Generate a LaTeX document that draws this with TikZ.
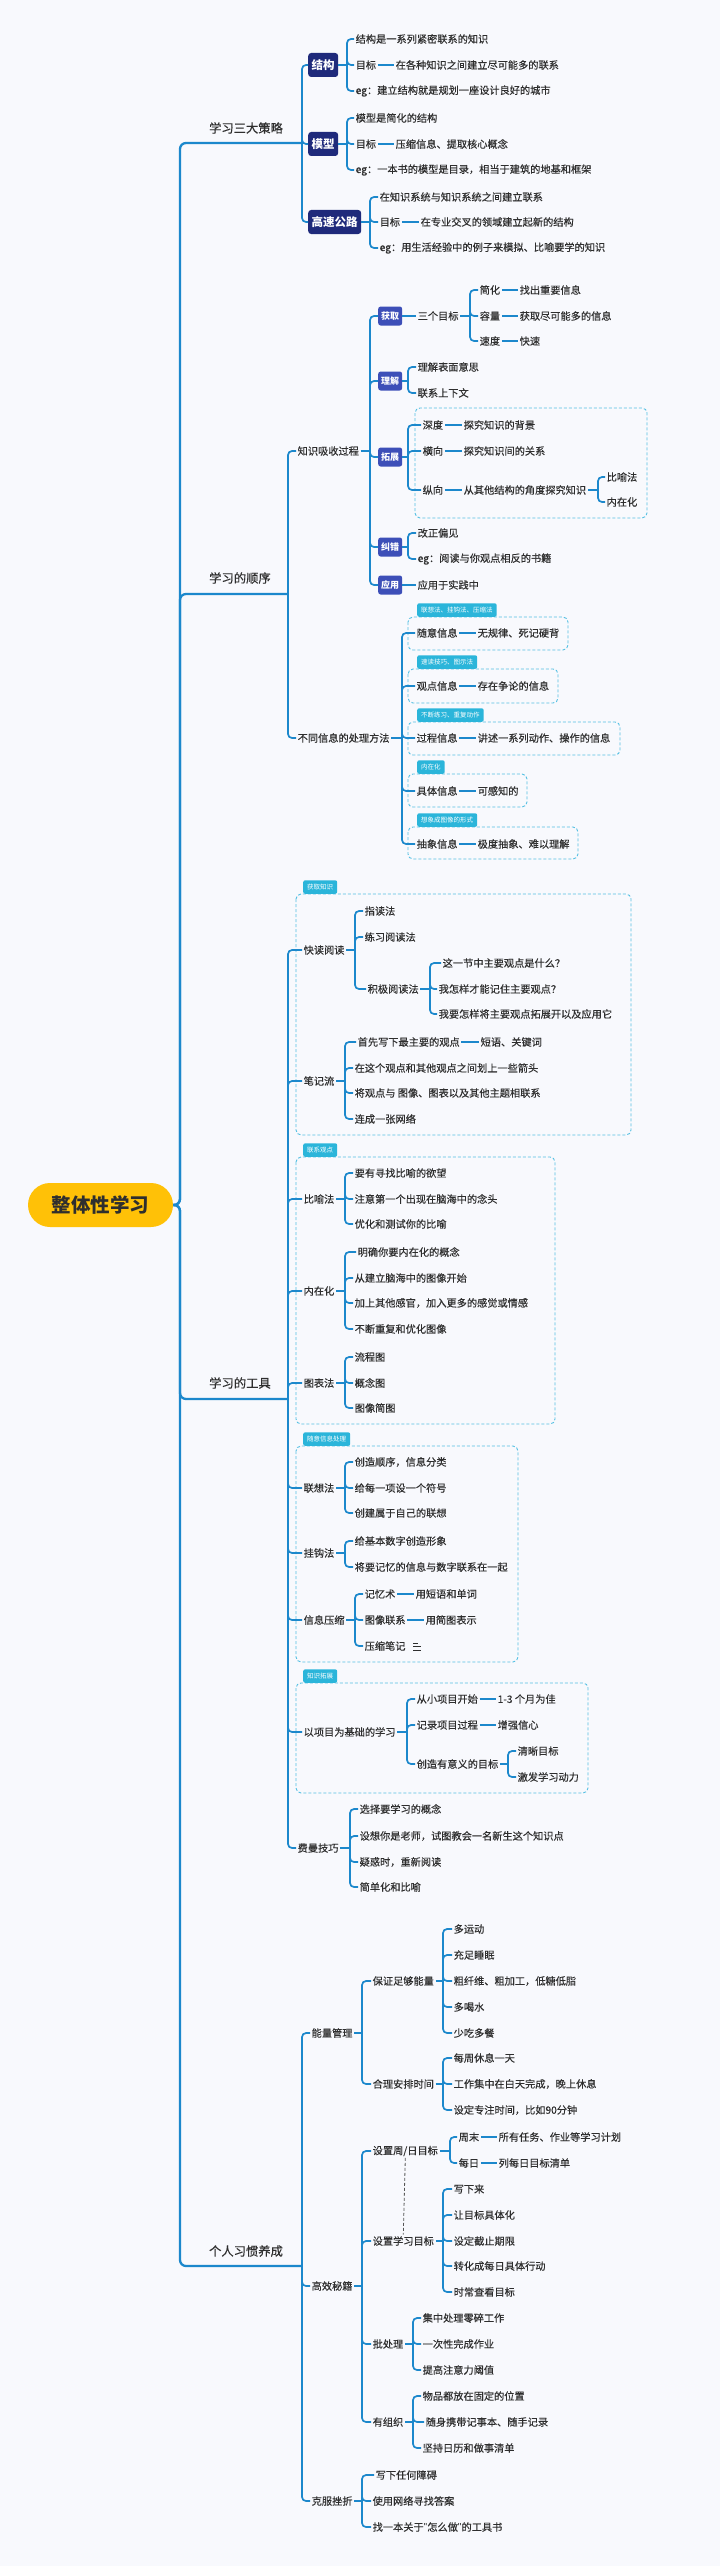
\documentclass[tikz,border=0pt]{standalone}
\usepackage{fontspec}
\setmainfont{Noto Sans CJK SC}
\newfontfamily\txtfont{Noto Sans CJK SC}[FakeBold=0.35]
\newfontfamily\qfont{Liberation Sans}
\usetikzlibrary{calc}
\definecolor{bg}{HTML}{F8F9FD}
\definecolor{ln}{HTML}{1C88CC}
\definecolor{navy}{HTML}{1F2A7B}
\definecolor{mblue}{HTML}{3D4FB8}
\definecolor{tagc}{HTML}{2BB5DA}
\definecolor{dashc}{HTML}{55C0E3}
\definecolor{tx}{HTML}{2E2E2E}
\definecolor{rootc}{HTML}{FFC107}
\definecolor{relc}{HTML}{555555}
\newcommand\fan[3]{\coordinate (sp) at (#2,0);
  \draw[link] (#1.east) -- (#1.east -| sp);
  \foreach \c in {#3}{\draw[link,rounded corners=4pt] (#1.east -| sp) |- (\c.west);}}
\newcommand\pair[2]{\draw[link] (#1.east) -- (#2.west);}
\newcommand\tagbox[3]{\node[tagstyle] (#1) at (#2) {#3};}
\tikzset{
  txt/.style={anchor=west, inner sep=1.5pt, font=\txtfont\fontsize{10.2}{12}\selectfont, text=tx},
  lone/.style={inner sep=1pt, font=\txtfont\fontsize{12.3}{14}\selectfont, text=tx},
  navybox/.style={anchor=west, fill=navy, text=white, font=\bfseries\fontsize{11.5}{13}\selectfont, rounded corners=3pt, inner xsep=3.5pt, inner ysep=0pt, minimum height=24pt},
  bluebox/.style={anchor=west, fill=mblue, text=white, font=\bfseries\fontsize{9}{11}\selectfont, rounded corners=2.5pt, inner xsep=3pt, inner ysep=0pt, minimum height=19pt},
  tagstyle/.style={anchor=south west, fill=tagc, text=white, font=\fontsize{6.5}{8}\selectfont, rounded corners=2pt, inner xsep=4pt, inner ysep=0pt, minimum height=13.5pt},
  dbox/.style={draw=dashc, dash pattern=on 3pt off 2pt, line width=0.9pt, rounded corners=5pt},
  link/.style={draw=ln, line width=1.7pt},
  trunkline/.style={draw=ln, line width=2.3pt},
  rootbox/.style={fill=rootc, text=tx, font=\bfseries\fontsize{19.5}{22}\selectfont, rounded corners=22pt, minimum width=145pt, minimum height=44pt, inner sep=0pt},
  relline/.style={draw=relc, dash pattern=on 3pt off 2pt, line width=0.8pt}
}
\begin{document}
\begin{tikzpicture}[x=1pt,y=-1pt]
\fill[bg] (0,0) rectangle (720,2566);
\useasboundingbox (0,0) rectangle (720,2566);

% dashed group boxes
\draw[dbox] (415,408) rectangle (647,518);
\draw[dbox] (408,617) rectangle (568,650);
\draw[dbox] (408,669) rectangle (558,703);
\draw[dbox] (408,722) rectangle (620,755);
\draw[dbox] (408,774) rectangle (527,807);
\draw[dbox] (408,827) rectangle (578,859);
\draw[dbox] (296,894) rectangle (631,1135);
\draw[dbox] (296,1157) rectangle (555,1424);
\draw[dbox] (296,1446) rectangle (518,1662);
\draw[dbox] (296,1683) rectangle (588,1793);
\tagbox{ta}{417,617}{联想法、挂钩法、压缩法}
\tagbox{tb}{417,669}{速读技巧、图示法}
\tagbox{tc}{417,722}{不断练习、重复动作}
\tagbox{td}{417,774}{内在化}
\tagbox{te}{417,827}{想象成图像的形式}
\tagbox{tf}{303,894}{获取知识}
\tagbox{tg}{303,1157}{联系观点}
\tagbox{th}{303,1446}{随意信息处理}
\tagbox{ti}{303,1683}{知识拓展}

% root and trunk
\node[rootbox] (root) at (100.5,1205) {整体性学习};
\coordinate (tk) at (180,0);
\coordinate (b1) at (302,143);
\coordinate (b2) at (288,594);
\coordinate (b3) at (288,1399);
\coordinate (b4) at (302,2266);
\foreach \b in {b1,b2,b3,b4}{\draw[trunkline,rounded corners=6pt] (root.east) -- (root.east -| tk) |- (\b);}
\node[lone] (L1) at (246,128) {学习三大策略};
\node[lone] (L2) at (240,578) {学习的顺序};
\node[lone] (L3) at (240,1383) {学习的工具};
\node[lone] (L4) at (246,2251) {个人习惯养成};

% ===== 学习三大策略
\node[navybox] (jg) at (308,65) {结构};
\node[navybox] (mx) at (308,144) {模型};
\node[navybox] (gs) at (308,222) {高速公路};
\foreach \c in {jg,mx,gs}{\draw[link,rounded corners=4pt] (b1) |- (\c.west);}
\node[txt] (jg1) at (354,39) {结构是一系列紧密联系的知识};
\node[txt] (jg2) at (354,65) {目标};
\node[txt] (jg2b) at (394,65) {在各种知识之间建立尽可能多的联系};
\node[txt] (jg3) at (354,91) {eg：建立结构就是规划一座设计良好的城市};
\fan{jg}{347}{jg1,jg2,jg3}
\pair{jg2}{jg2b}
\node[txt] (mx1) at (354,118) {模型是简化的结构};
\node[txt] (mx2) at (354,144) {目标};
\node[txt] (mx2b) at (394,144) {压缩信息、提取核心概念};
\node[txt] (mx3) at (354,170) {eg：一本书的模型是目录，相当于建筑的地基和框架};
\fan{mx}{347}{mx1,mx2,mx3}
\pair{mx2}{mx2b}
\node[txt] (gs1) at (378,197) {在知识系统与知识系统之间建立联系};
\node[txt] (gs2) at (378,222) {目标};
\node[txt] (gs2b) at (419,222) {在专业交叉的领域建立起新的结构};
\node[txt] (gs3) at (378,248) {eg：用生活经验中的例子来模拟、比喻要学的知识};
\fan{gs}{370}{gs1,gs2,gs3}
\pair{gs2}{gs2b}

% ===== 学习的顺序
\node[txt] (zs) at (296,451) {知识吸收过程};
\node[txt] (bt) at (296,738) {不同信息的处理方法};
\foreach \c in {zs,bt}{\draw[link,rounded corners=4pt] (b2) |- (\c.west);}
\node[bluebox] (hq) at (378,316) {获取};
\node[bluebox] (lj) at (378,381) {理解};
\node[bluebox] (tz) at (378,457) {拓展};
\node[bluebox] (jc) at (378,547) {纠错};
\node[bluebox] (yy) at (378,585) {应用};
\fan{zs}{370}{hq,lj,tz,jc,yy}
\node[txt] (hq1) at (416,316) {三个目标};
\pair{hq}{hq1}
\node[txt] (hq1a) at (478,290) {简化};
\node[txt] (hq1b) at (478,316) {容量};
\node[txt] (hq1c) at (478,341) {速度};
\fan{hq1}{470}{hq1a,hq1b,hq1c}
\node[txt] (hq1ax) at (518,290) {找出重要信息};
\node[txt] (hq1bx) at (518,316) {获取尽可能多的信息};
\node[txt] (hq1cx) at (518,341) {快速};
\pair{hq1a}{hq1ax}\pair{hq1b}{hq1bx}\pair{hq1c}{hq1cx}
\node[txt] (lj1) at (416,367) {理解表面意思};
\node[txt] (lj2) at (416,393) {联系上下文};
\fan{lj}{408}{lj1,lj2}
\node[txt] (tz1) at (421,425) {深度};
\node[txt] (tz2) at (421,451) {横向};
\node[txt] (tz3) at (421,490) {纵向};
\fan{tz}{408}{tz1,tz2,tz3}
\node[txt] (tz1x) at (462,425) {探究知识的背景};
\node[txt] (tz2x) at (462,451) {探究知识间的关系};
\node[txt] (tz3x) at (462,490) {从其他结构的角度探究知识};
\pair{tz1}{tz1x}\pair{tz2}{tz2x}\pair{tz3}{tz3x}
\node[txt] (tz3a) at (605,477) {比喻法};
\node[txt] (tz3b) at (605,502) {内在化};
\fan{tz3x}{598}{tz3a,tz3b}
\node[txt] (jc1) at (416,533) {改正偏见};
\node[txt] (jc2) at (416,559) {eg：阅读与你观点相反的书籍};
\fan{jc}{408}{jc1,jc2}
\node[txt] (yy1) at (416,585) {应用于实践中};
\pair{yy}{yy1}
\node[txt] (bt1) at (415,633) {随意信息};
\node[txt] (bt2) at (415,686) {观点信息};
\node[txt] (bt3) at (415,738) {过程信息};
\node[txt] (bt4) at (415,791) {具体信息};
\node[txt] (bt5) at (415,844) {抽象信息};
\fan{bt}{402}{bt1,bt2,bt3,bt4,bt5}
\node[txt] (bt1x) at (476,633) {无规律、死记硬背};
\node[txt] (bt2x) at (476,686) {存在争论的信息};
\node[txt] (bt3x) at (476,738) {讲述一系列动作、操作的信息};
\node[txt] (bt4x) at (476,791) {可感知的};
\node[txt] (bt5x) at (476,844) {极度抽象、难以理解};
\pair{bt1}{bt1x}\pair{bt2}{bt2x}\pair{bt3}{bt3x}\pair{bt4}{bt4x}\pair{bt5}{bt5x}

% ===== 学习的工具
\node[txt] (kd) at (302,950) {快读阅读};
\node[txt] (bj) at (302,1081) {笔记流};
\node[txt] (by) at (302,1199) {比喻法};
\node[txt] (nz) at (302,1291) {内在化};
\node[txt] (tbf) at (302,1383) {图表法};
\node[txt] (lx) at (302,1488) {联想法};
\node[txt] (gg) at (302,1553) {挂钩法};
\node[txt] (ys) at (302,1620) {信息压缩};
\node[txt] (xm) at (302,1732) {以项目为基础的学习};
\node[txt] (fm) at (296,1848) {费曼技巧};
\foreach \c in {kd,bj,by,nz,tbf,lx,gg,ys,xm,fm}{\draw[link,rounded corners=4pt] (b3) |- (\c.west);}
\node[txt] (kd1) at (363,911) {指读法};
\node[txt] (kd2) at (363,937) {练习阅读法};
\node[txt] (kd3) at (366,989) {积极阅读法};
\fan{kd}{355}{kd1,kd2,kd3}
\node[txt] (kd3a) at (441,963) {这一节中主要观点是什么？};
\node[txt] (kd3b) at (437,989) {我怎样才能记住主要观点？};
\node[txt] (kd3c) at (437,1014) {我要怎样将主要观点拓展开以及应用它};
\fan{kd3}{430}{kd3a,kd3b,kd3c}
\node[txt] (bj1) at (356,1042) {首先写下最主要的观点};
\node[txt] (bj1x) at (479,1042) {短语、关键词};
\node[txt] (bj2) at (353,1068) {在这个观点和其他观点之间划上一些箭头};
\node[txt] (bj3) at (353,1093) {将观点与 图像、图表以及其他主题相联系};
\node[txt] (bj4) at (353,1119) {连成一张网络};
\fan{bj}{345}{bj1,bj2,bj3,bj4}
\pair{bj1}{bj1x}
\node[txt] (by1) at (353,1173) {要有寻找比喻的欲望};
\node[txt] (by2) at (353,1199) {注意第一个出现在脑海中的念头};
\node[txt] (by3) at (353,1224) {优化和测试你的比喻};
\fan{by}{345}{by1,by2,by3}
\node[txt] (nz1) at (356,1252) {明确你要内在化的概念};
\node[txt] (nz2) at (353,1278) {从建立脑海中的图像开始};
\node[txt] (nz3) at (353,1303) {加上其他感官，加入更多的感觉或情感};
\node[txt] (nz4) at (353,1329) {不断重复和优化图像};
\fan{nz}{345}{nz1,nz2,nz3,nz4}
\node[txt] (tb1) at (353,1357) {流程图};
\node[txt] (tb2) at (353,1383) {概念图};
\node[txt] (tb3) at (353,1408) {图像简图};
\fan{tbf}{345}{tb1,tb2,tb3}
\node[txt] (lx1) at (353,1462) {创造顺序，信息分类};
\node[txt] (lx2) at (353,1488) {给每一项设一个符号};
\node[txt] (lx3) at (353,1513) {创建属于自己的联想};
\fan{lx}{345}{lx1,lx2,lx3}
\node[txt] (gg1) at (353,1541) {给基本数字创造形象};
\node[txt] (gg2) at (353,1567) {将要记忆的信息与数字联系在一起};
\fan{gg}{345}{gg1,gg2}
\node[txt] (ys1) at (363,1594) {记忆术};
\node[txt] (ys2) at (363,1620) {图像联系};
\node[txt] (ys3) at (363,1646) {压缩笔记};
\fan{ys}{355}{ys1,ys2,ys3}
\node[txt] (ys1x) at (414,1594) {用短语和单词};
\node[txt] (ys2x) at (424,1620) {用简图表示};
\pair{ys1}{ys1x}\pair{ys2}{ys2x}
\draw[tx,line width=0.8pt] (413,1643)--(418,1643) (413,1646.5)--(421,1646.5) (413,1650)--(421,1650);
\node[txt] (xm1) at (415,1699) {从小项目开始};
\node[txt] (xm2) at (415,1725) {记录项目过程};
\node[txt] (xm3) at (415,1764) {创造有意义的目标};
\fan{xm}{407}{xm1,xm2,xm3}
\node[txt] (xm1x) at (496,1699) {1-3 个月为佳};
\node[txt] (xm2x) at (496,1725) {增强信心};
\pair{xm1}{xm1x}\pair{xm2}{xm2x}
\node[txt] (xm3a) at (516,1751) {清晰目标};
\node[txt] (xm3b) at (516,1777) {激发学习动力};
\fan{xm3}{508}{xm3a,xm3b}
\node[txt] (fm1) at (358,1809) {选择要学习的概念};
\node[txt] (fm2) at (358,1836) {设想你是老师，试图教会一名新生这个知识点};
\node[txt] (fm3) at (358,1862) {疑惑时，重新阅读};
\node[txt] (fm4) at (358,1887) {简单化和比喻};
\fan{fm}{350}{fm1,fm2,fm3,fm4}

% ===== 个人习惯养成
\node[txt] (ng) at (310,2033) {能量管理};
\node[txt] (gx) at (310,2286) {高效秘籍};
\node[txt] (kf) at (310,2501) {克服挫折};
\foreach \c in {ng,gx,kf}{\draw[link,rounded corners=4pt] (b4) |- (\c.west);}
\node[txt] (ng1) at (371,1981) {保证足够能量};
\node[txt] (ng2) at (371,2084) {合理安排时间};
\fan{ng}{362}{ng1,ng2}
\node[txt] (ng1a) at (452,1929) {多运动};
\node[txt] (ng1b) at (452,1955) {充足睡眠};
\node[txt] (ng1c) at (452,1981) {粗纤维、粗加工，低糖低脂};
\node[txt] (ng1d) at (452,2007) {多喝水};
\node[txt] (ng1e) at (452,2033) {少吃多餐};
\fan{ng1}{443}{ng1a,ng1b,ng1c,ng1d,ng1e}
\node[txt] (ng2a) at (452,2058) {每周休息一天};
\node[txt] (ng2b) at (452,2084) {工作集中在白天完成，晚上休息};
\node[txt] (ng2c) at (452,2110) {设定专注时间，比如90分钟};
\fan{ng2}{443}{ng2a,ng2b,ng2c}
\node[txt] (gx1) at (371,2151) {设置周/日目标};
\node[txt] (gx2) at (371,2241) {设置学习目标};
\node[txt] (gx3) at (371,2344) {批处理};
\node[txt] (gx4) at (371,2422) {有组织};
\fan{gx}{362}{gx1,gx2,gx3,gx4}
\draw[relline] (gx1.south) -- (gx2.north);
\node[txt] (gx1a) at (457,2137) {周末};
\node[txt] (gx1b) at (457,2163) {每日};
\fan{gx1}{450}{gx1a,gx1b}
\node[txt] (gx1ax) at (497,2137) {所有任务、作业等学习计划};
\node[txt] (gx1bx) at (497,2163) {列每日目标清单};
\pair{gx1a}{gx1ax}\pair{gx1b}{gx1bx}
\node[txt] (gx2a) at (452,2189) {写下来};
\node[txt] (gx2b) at (452,2215) {让目标具体化};
\node[txt] (gx2c) at (452,2241) {设定截止期限};
\node[txt] (gx2d) at (452,2266) {转化成每日具体行动};
\node[txt] (gx2e) at (452,2292) {时常查看目标};
\fan{gx2}{443}{gx2a,gx2b,gx2c,gx2d,gx2e}
\node[txt] (gx3a) at (421,2318) {集中处理零碎工作};
\node[txt] (gx3b) at (421,2344) {一次性完成作业};
\node[txt] (gx3c) at (421,2370) {提高注意力阈值};
\fan{gx3}{413}{gx3a,gx3b,gx3c}
\node[txt] (gx4a) at (421,2396) {物品都放在固定的位置};
\node[txt] (gx4b) at (424,2422) {随身携带记事本、随手记录};
\node[txt] (gx4c) at (421,2448) {坚持日历和做事清单};
\fan{gx4}{413}{gx4a,gx4b,gx4c}
\node[txt] (kf1) at (374,2475) {写下任何障碍};
\node[txt] (kf2) at (371,2501) {使用网络寻找答案};
\node[txt] (kf3) at (371,2527) {找一本关于{\qfont"}怎么做{\qfont"}的工具书};
\fan{kf}{362}{kf1,kf2,kf3}
\end{tikzpicture}
\end{document}
